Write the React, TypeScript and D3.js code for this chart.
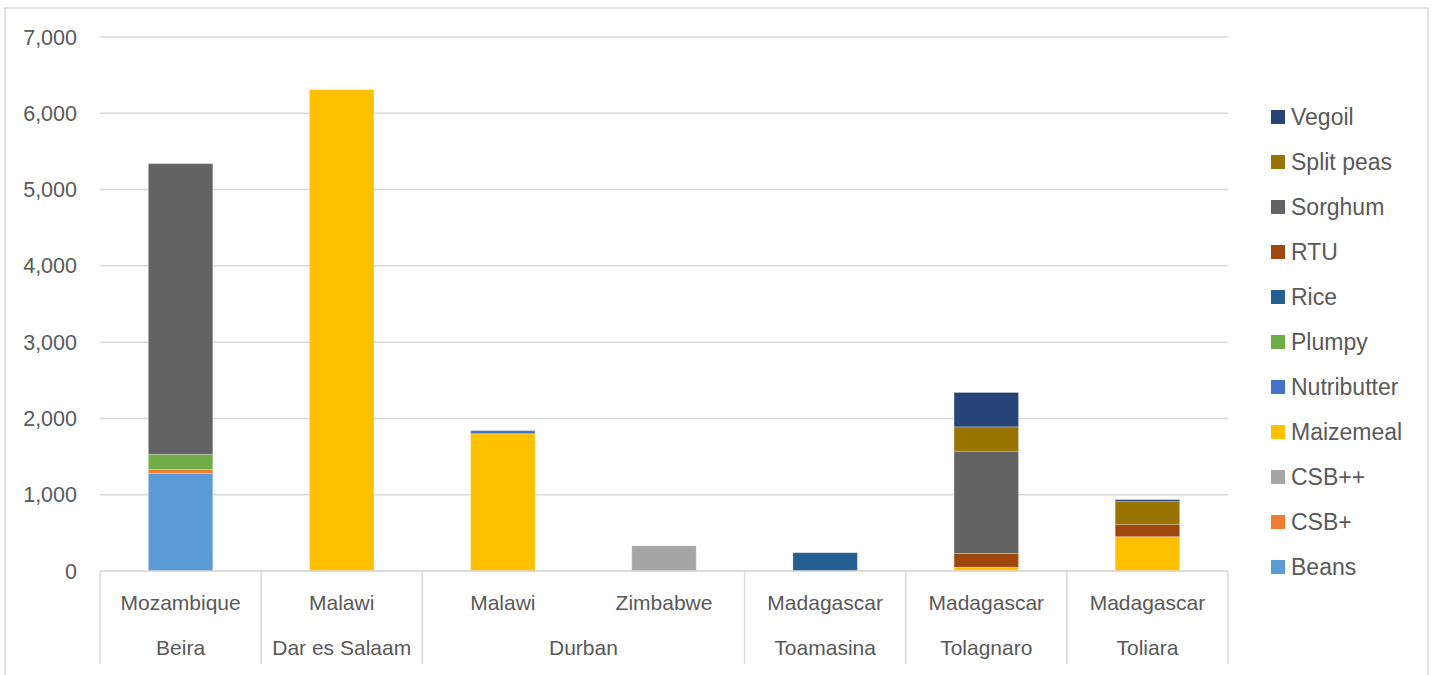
import React from 'react';
import * as d3 from 'd3';

// bars, left to right
const countries = ['Mozambique', 'Malawi', 'Malawi', 'Zimbabwe', 'Madagascar', 'Madagascar', 'Madagascar'];
const ports = ['Beira', 'Dar es Salaam', 'Durban', 'Durban', 'Toamasina', 'Tolagnaro', 'Toliara'];

// commodities, stacking order bottom -> top
const commodities = ['Beans', 'CSB+', 'CSB++', 'Maizemeal', 'Nutributter', 'Plumpy', 'Rice', 'RTU', 'Sorghum', 'Split peas', 'Vegoil'];
const commodityColors = ['#5B9BD5', '#ED7D31', '#A5A5A5', '#FFC000', '#4472C4', '#70AD47', '#255E91', '#9E480E', '#636363', '#997300', '#264478'];

const beans = [1280, 0, 0, 0, 0, 0, 0];
const csbPlus = [50, 0, 0, 0, 0, 0, 0];
const csbPlusPlus = [0, 0, 0, 330, 0, 0, 0];
const maizemeal = [0, 6310, 1800, 0, 0, 50, 450];
const nutributter = [0, 0, 40, 0, 0, 0, 0];
const plumpy = [200, 0, 0, 0, 0, 0, 0];
const rice = [0, 0, 0, 0, 240, 0, 0];
const rtu = [0, 0, 0, 0, 0, 180, 160];
const sorghum = [3810, 0, 0, 0, 0, 1340, 0];
const splitPeas = [0, 0, 0, 0, 0, 320, 300];
const vegoil = [0, 0, 0, 0, 0, 450, 25];

const yTicks = [0, 1000, 2000, 3000, 4000, 5000, 6000, 7000];

const FONT = '"Liberation Sans", Arial, sans-serif';
const TEXT = '#595959';
const GRID = '#D9D9D9';

export default function App() {
  const width = 1438;
  const height = 675;
  const margin = { left: 100, right: 210, top: 37, bottom: 104 };
  const plotRight = width - margin.right;
  const plotBottom = height - margin.bottom;

  const series = [beans, csbPlus, csbPlusPlus, maizemeal, nutributter, plumpy, rice, rtu, sorghum, splitPeas, vegoil];

  // rows for d3.stack
  const rows = countries.map((_, i) => {
    const r: Record<string, number> = { idx: i };
    commodities.forEach((c, k) => { r[c] = series[k][i]; });
    return r;
  });
  const stacked = d3.stack<Record<string, number>>().keys(commodities)(rows);

  const x = d3.scaleBand<number>()
    .domain(countries.map((_, i) => i))
    .range([margin.left, plotRight])
    .paddingInner(0.6)
    .paddingOuter(0.3);
  const step = x.step();
  const y = d3.scaleLinear().domain([0, 7000]).range([plotBottom, margin.top]);
  const fmt = d3.format(',');

  // group consecutive bars by port
  const portGroups: { name: string; start: number; end: number }[] = [];
  ports.forEach((p, i) => {
    const last = portGroups[portGroups.length - 1];
    if (last && last.name === p) last.end = i;
    else portGroups.push({ name: p, start: i, end: i });
  });
  const bandLeft = (i: number) => margin.left + i * step;

  return (
    <svg width={width} height={height} style={{ position: 'absolute', left: 0, top: 0, display: 'block', background: '#fff' }}>
      <rect x={5} y={8} width={1423} height={700} fill="#fff" stroke={GRID} strokeWidth={1.5} />

      {/* gridlines + y labels */}
      {yTicks.map(t => (
        <g key={t}>
          <line x1={margin.left} x2={plotRight} y1={y(t)} y2={y(t)} stroke={GRID} strokeWidth={1.5} />
          <text x={77} y={y(t)} dy="0.35em" textAnchor="end" fontFamily={FONT} fontSize={21.5} fill={TEXT}>{fmt(t)}</text>
        </g>
      ))}

      {/* bars */}
      {stacked.map((layer, k) => (
        <g key={layer.key} fill={commodityColors[k]}>
          {layer.map((d, i) => (d[1] - d[0] > 0 ? (
            <rect key={i} x={x(i)} width={x.bandwidth()} y={y(d[1])} height={y(d[0]) - y(d[1])}
              stroke="#fff" strokeOpacity={0.25} strokeWidth={1} />
          ) : null))}
        </g>
      ))}

      {/* category axis */}
      <line x1={margin.left} x2={plotRight} y1={plotBottom} y2={plotBottom} stroke={GRID} strokeWidth={1.5} />
      {countries.map((c, i) => (
        <text key={i} x={(x(i) as number) + x.bandwidth() / 2} y={603} dy="0.35em" textAnchor="middle" fontFamily={FONT} fontSize={21} fill={TEXT}>{c}</text>
      ))}
      {portGroups.map(g => (
        <text key={g.name} x={(bandLeft(g.start) + bandLeft(g.end + 1)) / 2} y={648} dy="0.35em" textAnchor="middle" fontFamily={FONT} fontSize={21} fill={TEXT}>{g.name}</text>
      ))}
      {[...portGroups.map(g => g.start), countries.length].map(i => (
        <line key={i} x1={bandLeft(i)} x2={bandLeft(i)} y1={plotBottom} y2={664} stroke={GRID} strokeWidth={1.5} />
      ))}

      {/* legend, top item is last series */}
      {commodities.slice().reverse().map((c, j) => {
        const k = commodities.length - 1 - j;
        const ly = 117 + j * 45;
        return (
          <g key={c}>
            <rect x={1271} y={ly - 7} width={14} height={14} fill={commodityColors[k]} />
            <text x={1291} y={ly} dy="0.35em" fontFamily={FONT} fontSize={23} fill={TEXT}>{c}</text>
          </g>
        );
      })}
    </svg>
  );
}
